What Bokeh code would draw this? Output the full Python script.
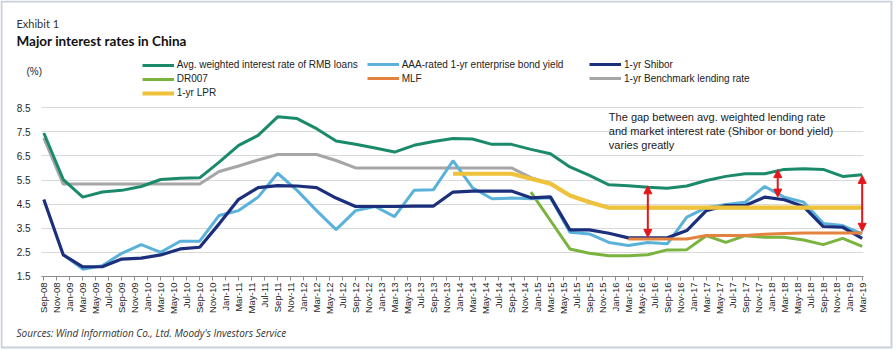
import numpy as np
import pandas as pd
from bokeh.plotting import figure
from bokeh.models import (Range1d, FixedTicker, Legend, LegendItem, Label, Arrow, Grid,
                          NormalHead, BoxAnnotation, ColumnDataSource, LinearAxis)
from bokeh.embed import file_html
from bokeh.resources import INLINE

# ---------------- data (quarterly, Sep-08 .. Mar-19) ----------------
quarters = pd.date_range("2008-09-01", "2019-03-01", freq="3MS")
tick_dates = pd.date_range("2008-09-01", "2019-03-01", freq="2MS")
tick_labels = [d.strftime("%b-%y") for d in tick_dates]
y_ticks = [1.5, 2.5, 3.5, 4.5, 5.5, 6.5, 7.5, 8.5]

N = None
avg_loan = [7.45, 5.52, 4.79, 5.00, 5.07, 5.23, 5.52, 5.57, 5.59, 6.24, 6.94, 7.35, 8.12, 8.05,
            7.63, 7.12, 6.98, 6.83, 6.66, 6.94, 7.10, 7.22, 7.20, 6.98, 6.98, 6.77, 6.59, 6.04,
            5.69, 5.30, 5.26, 5.20, 5.16, 5.25, 5.48, 5.65, 5.76, 5.76, 5.94, 5.97, 5.94, 5.65, 5.72]
aaa_bond = [N, 2.40, 1.80, 1.94, 2.46, 2.82, 2.50, 2.96, 2.96, 4.03, 4.23, 4.79, 5.78, 5.07,
            4.23, 3.44, 4.23, 4.40, 3.98, 5.07, 5.10, 6.30, 5.18, 4.72, 4.75, 4.72, 4.76, 3.33,
            3.26, 2.91, 2.78, 2.91, 2.85, 3.96, 4.35, 4.48, 4.58, 5.23, 4.79, 4.58, 3.70, 3.61, 3.26]
shibor = [4.69, 2.39, 1.90, 1.90, 2.22, 2.26, 2.39, 2.64, 2.71, 3.68, 4.70, 5.18, 5.27, 5.25,
          5.18, 4.75, 4.40, 4.40, 4.40, 4.42, 4.42, 5.00, 5.04, 5.04, 5.04, 4.76, 4.80, 3.43,
          3.43, 3.29, 3.10, 3.10, 3.10, 3.40, 4.23, 4.44, 4.44, 4.79, 4.68, 4.40, 3.57, 3.54, 3.08]
dr007 = [N] * 25 + [5.00, 3.82, 2.64, 2.46, 2.36, 2.36, 2.40, 2.60, 2.61, 3.19, 2.91, 3.19,
                    3.12, 3.12, 3.01, 2.82, 3.08, 2.75]
mlf = [N] * 30 + [3.05, 3.05, 3.05, 3.05, 3.20, 3.20, 3.20, 3.25, 3.28, 3.30, 3.30, 3.30, 3.30]
benchmark = [7.25, 5.33, 5.33, 5.33, 5.33, 5.33, 5.33, 5.33, 5.33, 5.85, 6.08, 6.33, 6.56, 6.56,
             6.56, 6.31, 6.00, 6.00, 6.00, 6.00, 6.00, 6.00, 6.00, 6.00, 6.00, 5.60, 5.35, 4.85,
             4.60, 4.35, 4.35, 4.35, 4.35, 4.35, 4.35, 4.35, 4.35, 4.35, 4.35, 4.35, 4.35, 4.35, 4.35]
lpr = [N] * 21 + [5.76, 5.76, 5.76, 5.76, 5.55, 5.35, 4.86, 4.58, 4.35, 4.35, 4.35, 4.35, 4.35,
                  4.35, 4.35, 4.35, 4.35, 4.35, 4.35, 4.35, 4.35, 4.35]

# gap arrows (annotation): dates, top and bottom values
gap_dates = ["2016-06-01", "2018-02-01", "2019-03-01"]
gap_top = [5.26, 5.93, 5.69]
gap_bottom = [3.12, 4.79, 3.37]

annotation_text = ("The gap between avg. weighted lending rate\n"
                   "and market interest rate (Shibor or bond yield)\n"
                   "varies greatly")


def month_index(d):
    d = pd.Timestamp(d)
    return (d.year - 2008) * 12 + d.month - 9


qx = np.array([month_index(d) for d in quarters], dtype=float)
tick_x = [month_index(d) for d in tick_dates]


def arr(v):
    return np.array([np.nan if a is None else a for a in v], dtype=float)


# ---------------- geometry: the frame is the whole canvas ----------------
W, H = 896, 350
X0_PX, KX = 43.3, 6.495          # canvas x of Sep-08, px per month
Y15_PX, KY = 275.9, 24.1         # canvas y of 1.5, px per unit
XL, XR = -0.35, 126.2            # plotted x extent (months)

p = figure(width=W, height=H, output_backend="svg", toolbar_location=None,
           x_axis_type=None, y_axis_type=None,
           x_range=Range1d(-X0_PX / KX, (W - X0_PX) / KX),
           y_range=Range1d(1.5 - (H - Y15_PX) / KY, 1.5 + Y15_PX / KY),
           min_border=0, min_border_left=0, min_border_right=0,
           min_border_top=0, min_border_bottom=0)
p.background_fill_color = "white"
p.border_fill_color = "white"
p.outline_line_color = None

FONT = "Liberation Sans"

yaxis = LinearAxis(fixed_location=XL, bounds=(1.5, 8.5), ticker=FixedTicker(ticks=y_ticks))
yaxis.axis_line_color = None
yaxis.major_tick_line_color = None
yaxis.minor_tick_line_color = None
yaxis.major_label_text_font = FONT
yaxis.major_label_text_font_size = "10px"
yaxis.major_label_text_color = "#262626"
yaxis.major_label_standoff = 5
p.add_layout(yaxis, "left")

xaxis = LinearAxis(fixed_location=1.5, bounds=(XL, XR), ticker=FixedTicker(ticks=tick_x))
xaxis.major_label_overrides = {t: lab for t, lab in zip(tick_x, tick_labels)}
xaxis.major_label_orientation = np.pi / 2
xaxis.axis_line_color = "#8c8c8c"
xaxis.major_tick_line_color = "#8c8c8c"
xaxis.major_tick_out = 4
xaxis.major_tick_in = 0
xaxis.minor_tick_line_color = None
xaxis.major_label_text_font = FONT
xaxis.major_label_text_font_size = "9.5px"
xaxis.major_label_text_color = "#262626"
xaxis.major_label_standoff = 2
p.add_layout(xaxis, "below")

ygrid = Grid(dimension=1, ticker=yaxis.ticker, grid_line_color="#d9d9d9", grid_line_width=1)
has_cross = "cross_bounds" in ygrid.properties()
if has_cross:
    ygrid.cross_bounds = (XL, XR)
p.add_layout(ygrid)
if not has_cross:
    # hide the grid outside the plotted x extent
    for l, r in [(0, XL), (XR, (W - X0_PX) / KX)]:
        p.add_layout(BoxAnnotation(left=l, right=r, bottom=1.6, top=8.6, fill_color="white",
                                   fill_alpha=1, line_alpha=0, level="underlay"))

C_AVG = "#1b8a6b"
C_AAA = "#5ab1da"
C_SHI = "#1c2f7c"
C_DR = "#7ab33e"
C_MLF = "#e4823f"
C_BEN = "#a6a6a6"
C_LPR = "#eec23a"
C_RED = "#e3171b"

r_ben = p.line(qx, arr(benchmark), line_color=C_BEN, line_width=3)
r_dr = p.line(qx, arr(dr007), line_color=C_DR, line_width=3)
r_aaa = p.line(qx, arr(aaa_bond), line_color=C_AAA, line_width=3)
r_shi = p.line(qx, arr(shibor), line_color=C_SHI, line_width=3.2)
r_mlf = p.line(qx, arr(mlf), line_color=C_MLF, line_width=3)
r_lpr = p.line(qx, arr(lpr), line_color=C_LPR, line_width=4.2)
r_avg = p.line(qx, arr(avg_loan), line_color=C_AVG, line_width=3)

# arrows
gx = [month_index(d) for d in gap_dates]
src = ColumnDataSource(dict(x=gx, y0=gap_top, y1=gap_bottom))
p.add_layout(Arrow(source=src, x_start="x", y_start="y0", x_end="x", y_end="y1",
                   line_color=C_RED, line_width=2,
                   start=NormalHead(size=8, fill_color=C_RED, line_color=C_RED),
                   end=NormalHead(size=8, fill_color=C_RED, line_color=C_RED)))

p.add_layout(Label(x=87, y=8.38, text=annotation_text, text_baseline="top",
                   text_font=FONT, text_font_size="11px", text_color="#1a1a1a",
                   text_line_height=1.2))


# legends (three columns), positioned in screen px (bottom-left corner)
def make_legend(items, cx_left, cy_bottom):
    lg = Legend(items=[LegendItem(label=l, renderers=[r]) for l, r in items],
                location=(cx_left, H - cy_bottom), orientation="vertical",
                glyph_width=32, glyph_height=10, label_height=12, spacing=2,
                label_standoff=3, padding=0, margin=0,
                label_text_font=FONT, label_text_font_size="10px", label_text_color="#222222",
                border_line_alpha=0, background_fill_alpha=0)
    p.add_layout(lg)


make_legend([("Avg. weighted interest rate of RMB loans", r_avg), ("DR007", r_dr), ("1-yr LPR", r_lpr)],
            141.7, 98.5)
make_legend([("AAA-rated 1-yr enterprise bond yield", r_aaa), ("MLF", r_mlf)], 366.7, 84)
make_legend([("1-yr Shibor", r_shi), ("1-yr Benchmark lending rate", r_ben)], 589, 84)


def screen_label(text, cx, cy, size, style="normal", font="Lato", color="#262626",
                 baseline="alphabetic"):
    p.add_layout(Label(x=cx, y=H - cy, x_units="screen", y_units="screen", text=text,
                       text_font=font, text_font_size=size, text_font_style=style,
                       text_color=color, text_baseline=baseline))


screen_label("Exhibit 1", 16, 23.3, "11px", color="#333333")
screen_label("Major interest rates in China", 16, 40.7, "13.5px", style="bold", color="#111111")
screen_label("(%)", 26, 71, "10px", font=FONT, baseline="middle")
screen_label("Sources: Wind Information Co., Ltd. Moody's Investors Service", 16, 332,
             "10px", style="italic", font="Open Sans", color="#333333")

# outer frame
p.add_layout(BoxAnnotation(left=1, right=891, top=H - 1, bottom=H - 347,
                           left_units="screen", right_units="screen",
                           top_units="screen", bottom_units="screen",
                           fill_alpha=0, line_color="#4a6785", line_width=2))

open("out.html", "w").write(file_html(p, INLINE))
